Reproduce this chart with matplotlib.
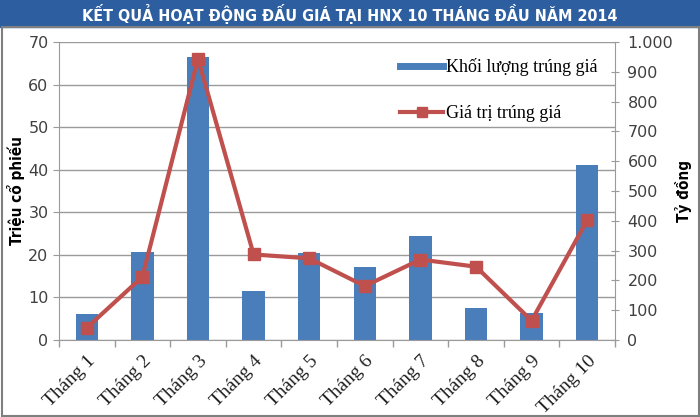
import numpy as np
import matplotlib
matplotlib.use("Agg")
from matplotlib import pyplot as plt
from matplotlib.patches import Rectangle
from matplotlib.lines import Line2D
from matplotlib.ticker import FuncFormatter, FixedLocator

# data
months = ['Tháng 1', 'Tháng 2', 'Tháng 3', 'Tháng 4', 'Tháng 5',
          'Tháng 6', 'Tháng 7', 'Tháng 8', 'Tháng 9', 'Tháng 10']
khoi_luong = [6.0, 20.7, 66.4, 11.6, 20.5, 17.2, 24.5, 7.6, 6.3, 41.0]   # triệu cổ phiếu
gia_tri = [41, 212, 944, 287, 274, 181, 270, 246, 65, 402]              # tỷ đồng

title = 'KẾT QUẢ HOẠT ĐỘNG ĐẤU GIÁ TẠI HNX 10 THÁNG ĐẦU NĂM 2014'
blue = '#4a7ebb'
red = '#c0504d'
grid_col = '#9a9a9a'
txt_col = '#404040'

fig = plt.figure(figsize=(7, 4.17), dpi=100)
W, H = 700, 417

# title banner + frame
fig.patches.append(Rectangle((0, 1 - 27 / H), 1, 27 / H, transform=fig.transFigure,
                             color='#2d5fa0', zorder=0))
fig.patches.append(Rectangle((1.5 / W, 1.5 / H), 1 - 3 / W, 1 - 27 / H - 1.5 / H,
                             transform=fig.transFigure, fill=False,
                             edgecolor='#7f7f7f', lw=1.5, zorder=0))
fig.text(0.5, 1 - 14 / H, title, color='white', ha='center', va='center',
         fontsize=11.5, fontweight='bold', family='DejaVu Sans', fontstretch='condensed')

ax = fig.add_axes([59 / W, 1 - 340 / H, (615 - 59) / W, (340 - 42) / H])
x = np.arange(len(months))
ax.bar(x, khoi_luong, width=0.4, color=blue, zorder=2)
ax.set_ylim(0, 70)
ax.set_yticks(range(0, 71, 10))
ax.set_xlim(-0.5, len(months) - 0.5)
ax.yaxis.grid(True, color=grid_col, lw=1)
ax.set_axisbelow(True)

ax.set_xticks(x)
ax.set_xticklabels(months, rotation=45, ha='right', rotation_mode='anchor',
                   family='Liberation Serif', fontsize=14, color='#202020')
ax.tick_params(axis='x', which='major', length=0, pad=9)
ax.xaxis.set_minor_locator(FixedLocator(np.arange(-0.5, len(months), 1)))
ax.tick_params(axis='x', which='minor', length=5, color=grid_col, width=1)
ax.tick_params(axis='y', labelsize=11.5, labelcolor=txt_col, color=grid_col, length=4)

for s in ['top', 'right']:
    ax.spines[s].set_visible(False)
for s in ['left', 'bottom']:
    ax.spines[s].set_color(grid_col)

ax.set_ylabel('Triệu cổ phiếu', fontsize=11, fontweight='bold',
              family='DejaVu Sans', fontstretch='condensed', labelpad=2)

ax2 = ax.twinx()
ax2.plot(x, gia_tri, color=red, lw=3, marker='s', ms=9, zorder=3)
ax2.set_ylim(0, 1000)
ax2.set_yticks(range(0, 1001, 100))
ax2.yaxis.set_major_formatter(FuncFormatter(lambda v, p: f'{int(v):,}'.replace(',', '.')))
ax2.tick_params(axis='y', labelsize=11.5, labelcolor=txt_col, color=grid_col,
                length=6, direction='inout', pad=6)
for s in ['top', 'left', 'bottom']:
    ax2.spines[s].set_visible(False)
ax2.spines['right'].set_color(grid_col)
ax2.set_ylabel('Tỷ đồng', fontsize=11, fontweight='bold',
               family='DejaVu Sans', fontstretch='condensed', labelpad=1)

handles = [Line2D([], [], color=blue, lw=5),
           Line2D([], [], color=red, lw=3, marker='s', ms=7)]
leg = ax2.legend(handles, ['Khối lượng trúng giá', 'Giá trị trúng giá'],
                 loc='upper left', bbox_to_anchor=(0.584, 1.0), frameon=False,
                 prop={'family': 'Liberation Serif', 'size': 13},
                 labelspacing=1.6, handlelength=2.4, handletextpad=0.15)

fig.savefig('out.png', dpi=100)
